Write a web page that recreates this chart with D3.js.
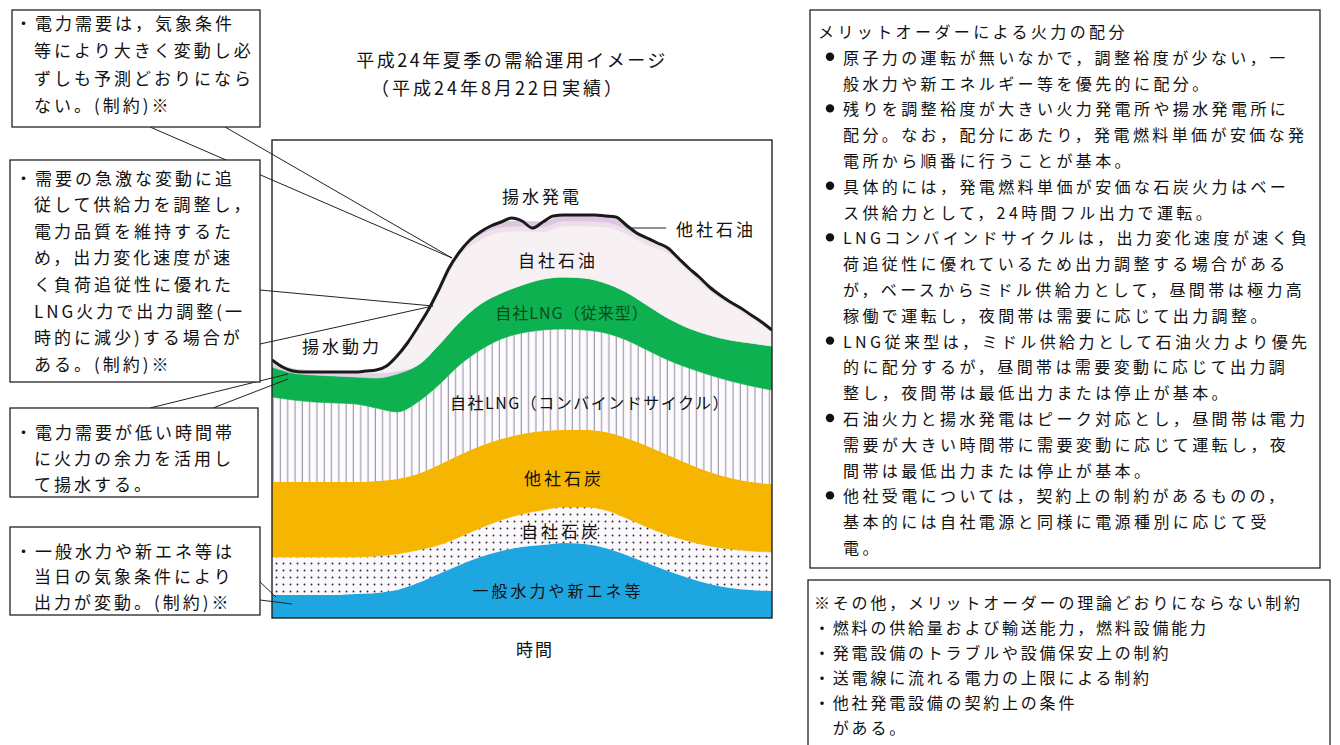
<!DOCTYPE html>
<html><head><meta charset="utf-8">
<script src="https://cdn.jsdelivr.net/npm/d3@7"></script>
<style>
body{margin:0;background:#fff}
svg{display:block}
text{font-family:"Noto Sans CJK JP","Noto Sans",sans-serif;fill:#111}
</style>
</head><body>
<svg id="c" width="1340" height="745"></svg>
<script>
// ---- data (arbitrary supply units) ----
const hours = [0,1,2,3,4,5,6,7,8,9,10,11,12,13,14,15,16,17,18,19,20,21,22,23,24];
const hydroNew  = [23,23,23,23,24,25,28,35,44,53,61,67,71,73,75,74,70,63,55,47,40,34,30,28,27];   // 一般水力や新エネ等
const coalOwn   = [38,38,38,38,37,37,36,33,29,28,29,31,33,35,36,37,38,37,36,36,37,38,39,39,39];   // 自社石炭
const coalOther = [75,75,75,75,75,75,75,76,80,82,82,81,80,79,77,77,78,80,81,80,77,74,71,69,68];   // 他社石炭
const lngCC     = [85,82,80,79,78,73,67,72,80,90,96,100,101,101,101,100,99,98,96,95,96,97,97,96,94]; // 自社LNG(コンバインドサイクル)
const lngConv   = [30,27,27,27,27,30,38,37,40,43,46,46,48,51,52,52,50,48,45,42,40,40,41,43,44];   // 自社LNG(従来型)
const pumpPower = [6,4,4,4,4,5,3,0,0,0,0,0,0,0,0,0,0,0,0,0,0,0,0,0,0];                            // 揚水動力
const oilOwn    = [0,0,0,0,1,3,15,38,52,66,64,61,54,47,51,52,56,58,60,65,56,44,35,25,13];         // 自社石油
const oilOther  = [0,0,0,0,0,0,0,0,3,4,5,5,5,5,5,5,5,5,5,5,4,4,3,3,3];                            // 他社石油
const pumpGen   = [0,0,0,0,0,0,0,0,0,0,3,5,5,5,6,6,6,4,2,0,0,0,0,0,0];                            // 揚水発電

const demandHours = [0,0.5,1,1.5,2,2.5,3,3.5,4,4.5,5,5.5,6,6.5,7,7.5,8,8.5,9,9.5,10,10.5,11,11.5,12,12.5,13,13.5,14,14.5,15,15.5,16,16.5,17,17.5,18,18.5,19,19.5,20,20.5,21,21.5,22,22.5,23,23.5,24];
const demand = [258,251,247,246,246,246,246,246,246,247,248,252,262,275,291,308,328,350,366,378,386,392,396,400,397,390,396,402,403,403,403,403,402,401,393,385,380,375,370,360,350,341,331,323,316,310,303,296,288];

const titleLines = ["平成24年夏季の需給運用イメージ", "（平成24年8月22日実績）"];
const xAxisLabel = "時間";

const seriesKeys   = ["hydroNew","coalOwn","coalOther","lngCC","lngConv","pumpPower","oilOwn","oilOther","pumpGen"];
const seriesValues = [hydroNew, coalOwn, coalOther, lngCC, lngConv, pumpPower, oilOwn, oilOther, pumpGen];

const boxL1 = ["・電力需要は，気象条件","等により大きく変動し必","ずしも予測どおりになら","ない。(制約)※"];
const boxL2 = ["・需要の急激な変動に追","従して供給力を調整し，","電力品質を維持するた","め，出力変化速度が速","く負荷追従性に優れた","LNG火力で出力調整(一","時的に減少)する場合が","ある。(制約)※"];
const boxL3 = ["・電力需要が低い時間帯","に火力の余力を活用し","て揚水する。"];
const boxL4 = ["・一般水力や新エネ等は","当日の気象条件により","出力が変動。(制約)※"];
const boxR1 = [
 {b:false,t:"メリットオーダーによる火力の配分"},
 {b:true, t:"原子力の運転が無いなかで，調整裕度が少ない，一"},
 {b:false,t:"般水力や新エネルギー等を優先的に配分。"},
 {b:true, t:"残りを調整裕度が大きい火力発電所や揚水発電所に"},
 {b:false,t:"配分。なお，配分にあたり，発電燃料単価が安価な発"},
 {b:false,t:"電所から順番に行うことが基本。"},
 {b:true, t:"具体的には，発電燃料単価が安価な石炭火力はベー"},
 {b:false,t:"ス供給力として，24時間フル出力で運転。"},
 {b:true, t:"LNGコンバインドサイクルは，出力変化速度が速く負"},
 {b:false,t:"荷追従性に優れているため出力調整する場合がある"},
 {b:false,t:"が，ベースからミドル供給力として，昼間帯は極力高"},
 {b:false,t:"稼働で運転し，夜間帯は需要に応じて出力調整。"},
 {b:true, t:"LNG従来型は，ミドル供給力として石油火力より優先"},
 {b:false,t:"的に配分するが，昼間帯は需要変動に応じて出力調"},
 {b:false,t:"整し，夜間帯は最低出力または停止が基本。"},
 {b:true, t:"石油火力と揚水発電はピーク対応とし，昼間帯は電力"},
 {b:false,t:"需要が大きい時間帯に需要変動に応じて運転し，夜"},
 {b:false,t:"間帯は最低出力または停止が基本。"},
 {b:true, t:"他社受電については，契約上の制約があるものの，"},
 {b:false,t:"基本的には自社電源と同様に電源種別に応じて受"},
 {b:false,t:"電。"}
];
const boxR2 = ["※その他，メリットオーダーの理論どおりにならない制約","・燃料の供給量および輸送能力，燃料設備能力","・発電設備のトラブルや設備保安上の制約","・送電線に流れる電力の上限による制約","・他社発電設備の契約上の条件","　がある。"];

// ---- chart ----
const svg = d3.select("#c");
const x = d3.scaleLinear().domain([0,24]).range([272,772]);
const y = d3.scaleLinear().domain([0,478]).range([618,140]);

const defs = svg.append("defs");
const pd = defs.append("pattern").attr("id","dots").attr("patternUnits","userSpaceOnUse").attr("width",7).attr("height",7);
pd.append("rect").attr("width",7).attr("height",7).attr("fill","#fbf8fb");
pd.append("circle").attr("cx",3.5).attr("cy",3.5).attr("r",0.95).attr("fill","#2a2a35");
const pv = defs.append("pattern").attr("id","vlines").attr("patternUnits","userSpaceOnUse").attr("width",7.3).attr("height",10);
pv.append("rect").attr("width",7.3).attr("height",10).attr("fill","#fdfbfd");
pv.append("line").attr("x1",3).attr("x2",3).attr("y1",0).attr("y2",10).attr("stroke","#8d8a9c").attr("stroke-width",1);
defs.append("clipPath").attr("id","plotclip").append("rect")
  .attr("x",x(0)).attr("y",y(478)).attr("width",x(24)-x(0)).attr("height",y(0)-y(478));

const fills = {hydroNew:"#1ea6e0", coalOwn:"url(#dots)", coalOther:"#f6b500", lngCC:"url(#vlines)",
  lngConv:"#0db150", pumpPower:"#e2d2e8", oilOwn:"#f7f1f4", oilOther:"#eee0ea", pumpGen:"#dcc6e2"};

const table = hours.map((h,i)=>{const o={hour:h}; seriesKeys.forEach((k,j)=>o[k]=seriesValues[j][i]); return o;});
const stacked = d3.stack().keys(seriesKeys)(table);
const area = d3.area().x(d=>x(d.data.hour)).y0(d=>y(d[0])).y1(d=>y(d[1])).curve(d3.curveMonotoneX);

const plot = svg.append("g").attr("clip-path","url(#plotclip)");
plot.selectAll("path.layer").data(stacked).join("path").attr("class","layer")
  .attr("d",area).attr("fill",d=>fills[d.key]).attr("stroke",d=>fills[d.key].startsWith("url")?"none":fills[d.key]).attr("stroke-width",0.6);

const dLine = d3.line().x((d,i)=>x(demandHours[i])).y(d=>y(d)).curve(d3.curveMonotoneX);
plot.append("path").attr("d",dLine(demand)).attr("fill","none").attr("stroke","#1a1a1a").attr("stroke-width",3);

svg.append("rect").attr("x",x(0)).attr("y",y(478)).attr("width",x(24)-x(0)).attr("height",y(0)-y(478))
  .attr("fill","none").attr("stroke","#222").attr("stroke-width",1.4);

// title
svg.append("text").attr("x",512).attr("y",59).attr("text-anchor","middle").attr("dominant-baseline","central")
  .attr("font-size",18).attr("letter-spacing",2.5).text(titleLines[0]);
svg.append("text").attr("x",498).attr("y",87).attr("text-anchor","middle").attr("dominant-baseline","central")
  .attr("font-size",18).attr("letter-spacing",3).text(titleLines[1]);
svg.append("text").attr("x",535).attr("y",648).attr("text-anchor","middle").attr("dominant-baseline","central")
  .attr("font-size",17).attr("letter-spacing",2).text(xAxisLabel);

// in-chart labels
const labels = [
 {t:"揚水発電",x:542,y:195,s:17,ls:3},
 {t:"他社石油",x:716,y:228,s:17,ls:3},
 {t:"自社石油",x:558,y:259,s:17,ls:3},
 {t:"自社LNG（従来型）",x:572,y:312,s:16,ls:1,c:"#0b4a1e"},
 {t:"揚水動力",x:342,y:345,s:17,ls:3},
 {t:"自社LNG（コンバインドサイクル）",x:590,y:402,s:16,ls:1.5},
 {t:"他社石炭",x:564,y:477,s:17,ls:3},
 {t:"自社石炭",x:561,y:530,s:17,ls:3},
 {t:"一般水力や新エネ等",x:558,y:590,s:16,ls:3}
];
svg.selectAll("text.lbl").data(labels).join("text").attr("class","lbl")
  .attr("x",d=>d.x).attr("y",d=>d.y).attr("text-anchor","middle").attr("dominant-baseline","central")
  .attr("font-size",d=>d.s).attr("letter-spacing",d=>d.ls).style("fill",d=>d.c||"#111").text(d=>d.t);

// leader lines
const leaders = [[150,127,452,258],[225,127,452,258],[260,290,433,306],[260,344,433,306],
  [150,408,288,374],[213,408,288,379],[260,582,276,597],[260,600,292,604],[632,228,666,228]];
svg.selectAll("line.ld").data(leaders).join("line").attr("class","ld")
  .attr("x1",d=>d[0]).attr("y1",d=>d[1]).attr("x2",d=>d[2]).attr("y2",d=>d[3])
  .attr("stroke","#222").attr("stroke-width",1);

// boxes
function box(bx,by,bw,bh,lines,opt){
  svg.append("rect").attr("x",bx).attr("y",by).attr("width",bw).attr("height",bh)
    .attr("fill","#fff").attr("stroke","#222").attr("stroke-width",1.3);
  lines.forEach((ln,i)=>{
    const yy = opt.y0 + i*opt.dy;
    let txt = ln, xx = opt.x1;
    if (typeof ln === "object"){ txt = ln.t; xx = ln.b? opt.x1 : (i===0? opt.x0 : opt.x1);
      if (ln.b) svg.append("circle").attr("cx",opt.bx).attr("cy",yy).attr("r",4.2).attr("fill","#111");
    } else { xx = i===0 ? opt.x0 : opt.x1; }
    svg.append("text").attr("x",xx).attr("y",yy).attr("dominant-baseline","central")
      .attr("font-size",opt.fs).attr("letter-spacing",opt.ls).text(txt);
  });
}
box(12,10,248,117,boxL1,{x0:15,x1:34,y0:22,dy:27.5,fs:17,ls:3});
box(10,160,250,222,boxL2,{x0:15,x1:34,y0:177,dy:26.6,fs:17,ls:3});
box(10,408,248,89,boxL3,{x0:15,x1:34,y0:431,dy:26,fs:17,ls:3});
box(10,527,250,88,boxL4,{x0:15,x1:34,y0:550,dy:25.5,fs:17,ls:3});
box(810,10,510,558,boxR1,{x0:818,x1:843,bx:830,y0:31,dy:25.8,fs:16,ls:3.4});
box(808,580,522,175,boxR2,{x0:814,x1:814,y0:602,dy:25,fs:16,ls:2.8});
</script>
</body></html>
